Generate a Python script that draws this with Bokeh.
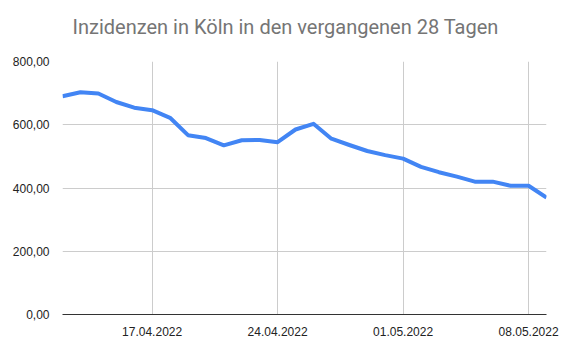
from datetime import datetime, timedelta
from bokeh.plotting import figure
from bokeh.models import FixedTicker, Range1d, Title
from bokeh.embed import file_html
from bokeh.resources import INLINE

start = datetime(2022, 4, 12)
dates = [start + timedelta(days=i) for i in range(28)]
values = [690, 703, 699, 672, 654, 646, 622, 567, 558, 535, 551, 552, 545, 585,
          603, 556, 536, 517, 504, 493, 467, 450, 436, 420, 420, 407, 407, 370]
x_tick_dates = [datetime(2022, 4, 17), datetime(2022, 4, 24), datetime(2022, 5, 1), datetime(2022, 5, 8)]
x_tick_labels = ["17.04.2022", "24.04.2022", "01.05.2022", "08.05.2022"]
y_ticks = [0, 200, 400, 600, 800]
y_tick_labels = ["0,00", "200,00", "400,00", "600,00", "800,00"]
title_text = "Inzidenzen in Köln in den vergangenen 28 Tagen"

def ms(d):
    return (d - datetime(1970, 1, 1)).total_seconds() * 1000

p = figure(width=564, height=352, output_backend="svg", toolbar_location=None,
           x_axis_type="datetime", title=None)
p.min_border_left = 62
p.min_border_right = 18
p.min_border_top = 61
p.min_border_bottom = 38
p.outline_line_color = None
p.background_fill_color = "white"
p.border_fill_color = "white"

p.x_range = Range1d(ms(dates[0]), ms(dates[-1]))
p.y_range = Range1d(0, 800)

p.line(dates, values, line_color="#4285F4", line_width=4, line_join="round")

spacer = Title(text=" ", text_font_size="4px", align="left")
p.add_layout(spacer, "above")
t = Title(text=title_text, align="left", vertical_align="middle", offset=10,
          text_color="#757575", text_font="Roboto", text_font_size="20px",
          text_font_style="normal")
p.add_layout(t, "above")

xt = [ms(d) for d in x_tick_dates]
p.xaxis.ticker = FixedTicker(ticks=xt)
p.xaxis.major_label_overrides = {v: l for v, l in zip(xt, x_tick_labels)}
p.xaxis.axis_line_color = "#333333"
p.xaxis.axis_line_width = 1
p.xaxis.major_tick_line_color = None
p.xaxis.minor_tick_line_color = None
p.xaxis.major_label_text_font = "Liberation Sans"
p.xaxis.major_label_text_font_size = "12px"
p.xaxis.major_label_text_color = "#222222"
p.xaxis.major_label_standoff = 6

p.yaxis.ticker = FixedTicker(ticks=y_ticks)
p.yaxis.major_label_overrides = {v: l for v, l in zip(y_ticks, y_tick_labels)}
p.yaxis.axis_line_color = None
p.yaxis.major_tick_line_color = None
p.yaxis.minor_tick_line_color = None
p.yaxis.major_label_text_font = "Liberation Sans"
p.yaxis.major_label_text_font_size = "12px"
p.yaxis.major_label_text_color = "#222222"
p.yaxis.major_label_standoff = 7

p.xgrid.grid_line_color = "#cccccc"
p.ygrid.grid_line_color = "#cccccc"

open("out.html", "w").write(file_html(p, INLINE))
